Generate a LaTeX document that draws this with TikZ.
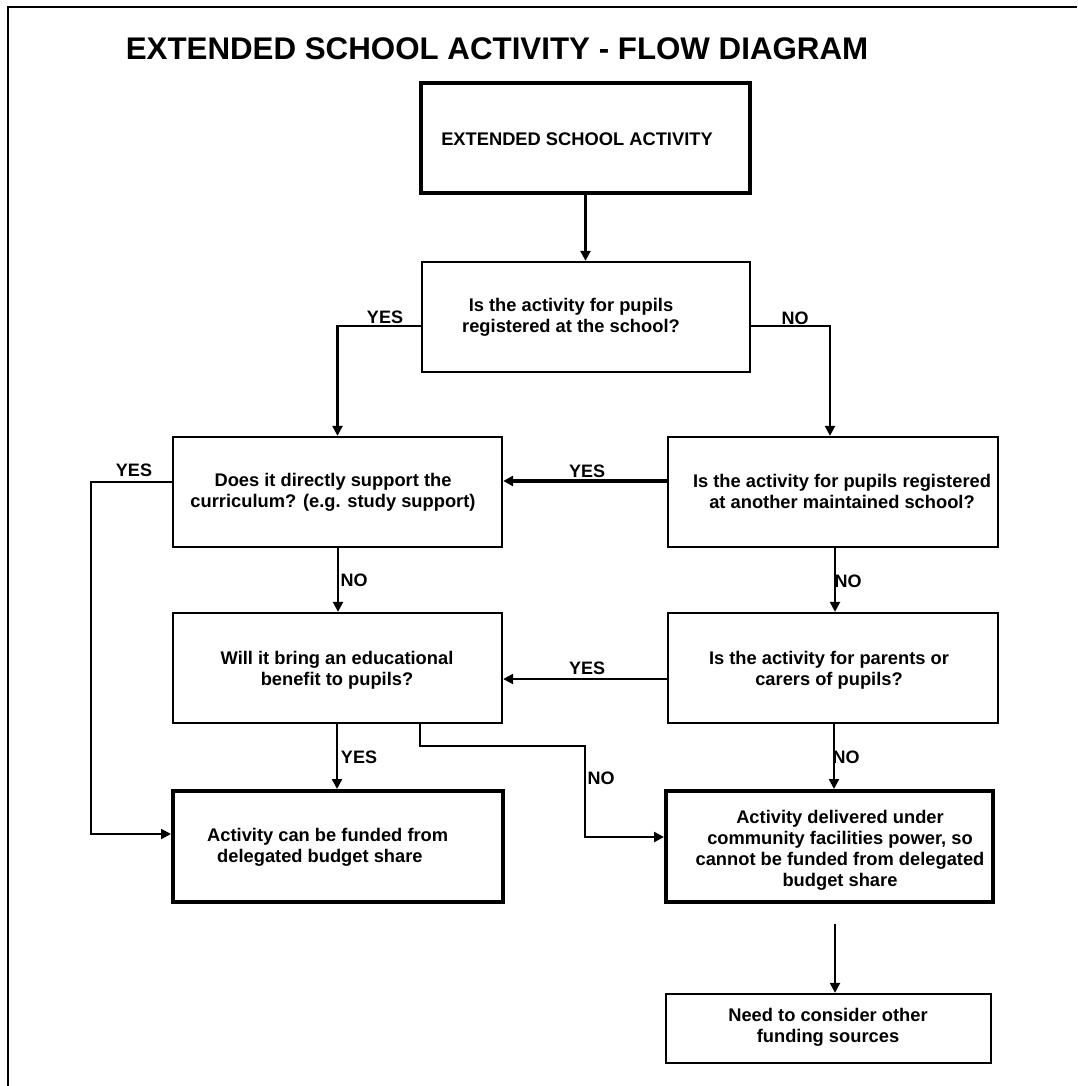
\documentclass[tikz,border=0pt]{standalone}
\usepackage{fontspec}
\setmainfont{Liberation Sans}
\usetikzlibrary{arrows.meta}
\tikzset{
  thinbox/.style={draw, line width=2.3pt, inner sep=0pt},
  thickbox/.style={draw, line width=4pt, inner sep=0pt},
  txt/.style={inner sep=0pt, anchor=north, align=center, font={\bfseries\fontsize{18.3}{21}\selectfont}},
  lbl/.style={inner sep=0pt, font={\bfseries\fontsize{18}{21}\selectfont}},
  arr/.style={line width=2.3pt, -{Triangle[length=10pt,width=10pt]}},
  conn/.style={line width=2.3pt}
}
\begin{document}
\begin{tikzpicture}[x=1pt,y=-1pt]
\useasboundingbox (0,0) rectangle (1077,1086);
% frame
\draw[line width=2.3pt] (8,1086) -- (8,7) -- (1077,7);
% title
\node[inner sep=0pt, anchor=north, font={\bfseries\fontsize{31.3}{36}\selectfont}] (title) at (497,37.5) {EXTENDED SCHOOL ACTIVITY - FLOW DIAGRAM};
% boxes
\node[thickbox, minimum width=329, minimum height=110] (b1) at (585.5,138) {};
\node[thinbox, minimum width=328, minimum height=110] (b2) at (586,317) {};
\node[thinbox, minimum width=329, minimum height=110] (b3) at (337.5,492) {};
\node[thinbox, minimum width=330, minimum height=110] (b4) at (833,492) {};
\node[thinbox, minimum width=329, minimum height=110] (b5) at (337.5,668) {};
\node[thinbox, minimum width=330, minimum height=110] (b6) at (833,668) {};
\node[thickbox, minimum width=330, minimum height=111] (b7) at (338,846.5) {};
\node[thickbox, minimum width=327, minimum height=111] (b8) at (829.5,846.5) {};
\node[thinbox, minimum width=325, minimum height=69] (b9) at (828.5,1028.5) {};
% texts
\node[txt] (t1) at (577,132.5) {EXTENDED SCHOOL ACTIVITY};
\node[txt] (t2) at (571,298.5) {Is the activity for pupils\\registered at the school?};
\node[txt] (t3) at (333,473.5) {Does it directly support the\\curriculum? (e.g. study support)};
\node[txt] (t4) at (842,474.5) {Is the activity for pupils registered\\at another maintained school?};
\node[txt] (t5) at (337,651.5) {Will it bring an educational\\benefit to pupils?};
\node[txt] (t6) at (829,651.5) {Is the activity for parents or\\carers of pupils?};
\node[txt, anchor=north west, align=left] (t7) at (207,828.5) {Activity can be funded from\\\hspace*{10pt}delegated budget share};
\node[txt] (t8) at (840,810.5) {Activity delivered under\\community facilities power, so\\cannot be funded from delegated\\budget share};
\node[txt] (t9) at (828,1008.5) {Need to consider other\\funding sources};
% connectors
\draw[arr] (b1.south) -- (b1.south |- b2.north);
\draw[arr] (b2.west |- 0,326) -| (b3.north);
\draw[arr] (b2.east |- 0,326) -| (830,0 |- b4.north);
\draw[arr, line width=3.4pt] (b4.west |- 0,481) -- (b3.east |- 0,481);
\draw[arr] (b3.west |- 0,482) -| (91,834) -- (b7.west |- 0,834);
\draw[arr] (338,0 |- b3.south) -- (338,0 |- b5.north);
\draw[arr] (835,0 |- b4.south) -- (835,0 |- b6.north);
\draw[arr] (b6.west |- 0,679) -- (b5.east |- 0,679);
\draw[arr] (337,0 |- b5.south) -- (337,0 |- b7.north);
\draw[arr] (420,0 |- b5.south) |- (585,746) |- (b8.west |- 0,837);
\draw[arr] (834,0 |- b6.south) -- (834,0 |- b8.north);
\coordinate (c9) at (835,924);
\draw[arr] (c9) -- (835,0 |- b9.north);
% labels
\node[lbl] (l1) at (385,317) {YES};
\node[lbl] (l2) at (795,318) {NO};
\node[lbl] (l3) at (134,470) {YES};
\node[lbl] (l4) at (587,471) {YES};
\node[lbl] (l5) at (354,580) {NO};
\node[lbl] (l6) at (848,581) {NO};
\node[lbl] (l7) at (587,668) {YES};
\node[lbl] (l8) at (359,757) {YES};
\node[lbl] (l9) at (601,778) {NO};
\node[lbl] (l10) at (846,757) {NO};
\end{tikzpicture}
\end{document}
